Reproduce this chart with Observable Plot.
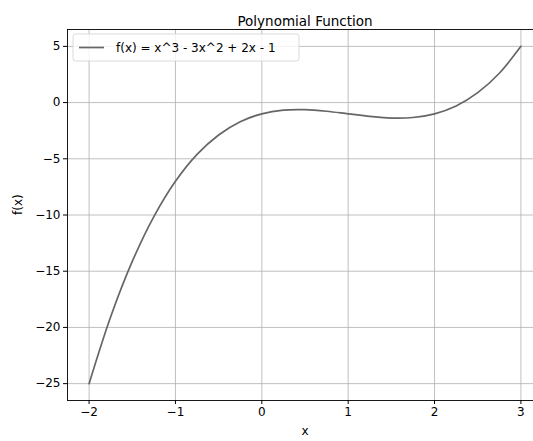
<!DOCTYPE html>
<html><head><meta charset="utf-8">
<script src="https://cdn.jsdelivr.net/npm/d3@7"></script>
<script src="https://cdn.jsdelivr.net/npm/@observablehq/plot@0.6"></script>
<style>html,body{margin:0;padding:0;overflow:hidden;background:#fff}#chart{width:533px;height:441px;overflow:hidden}</style>
</head><body><div id="chart"></div>
<script>
const xs = [-2, -1.75, -1.5, -1.25, -1, -0.75, -0.5, -0.25, 0, 0.25, 0.5, 0.75, 1, 1.25, 1.5, 1.75, 2, 2.25, 2.5, 2.75, 3];
const ys = [-25, -19.05, -14.13, -10.14, -7, -4.61, -2.88, -1.70, -1, -0.67, -0.63, -0.77, -1, -1.23, -1.38, -1.33, -1, -0.30, 0.88, 2.61, 5];
const xTicks = [-2, -1, 0, 1, 2, 3];
const yTicks = [-25, -20, -15, -10, -5, 0, 5];
const titleText = "Polynomial Function";
const xLabel = "x";
const yLabel = "f(x)";
const seriesName = "f(x) = x^3 - 3x^2 + 2x - 1";
const lineColor = "#666666";

const data = xs.map((x, i) => ({x, y: ys[i]}));

const chart = Plot.plot({
  width: 545, height: 441,
  marginLeft: 67, marginRight: 3, marginTop: 29, marginBottom: 41,
  style: {fontFamily: "DejaVu Sans", fontSize: "12px", color: "#000", background: "#fff", maxWidth: "none"},
  x: {domain: [-2.25, 3.25], label: null},
  y: {domain: [-26.5, 6.5], label: null},
  marks: [
    Plot.gridX(xTicks, {stroke: "#b0b0b0", strokeOpacity: 1, strokeWidth: 0.8}),
    Plot.gridY(yTicks, {stroke: "#b0b0b0", strokeOpacity: 1, strokeWidth: 0.8}),
    Plot.axisX(xTicks, {tickSize: 4, tickPadding: 3, fontSize: 12, label: null}),
    Plot.axisY(yTicks, {tickSize: 4, tickPadding: 3, fontSize: 12, label: null}),
    Plot.line(data, {x: "x", y: "y", stroke: lineColor, strokeWidth: 1.7, curve: "catmull-rom"}),
    Plot.frame({stroke: "#000", strokeWidth: 0.9}),
    Plot.text([titleText], {frameAnchor: "top", dy: -13, fontSize: 13.5, fill: "#000"}),
    Plot.text([xLabel], {frameAnchor: "bottom", dy: 34, fontSize: 12, fill: "#000"}),
    Plot.text([yLabel], {frameAnchor: "left", dx: -49, rotate: -90, fontSize: 12, fill: "#000"})
  ]
});
chart.style.maxWidth = "none";

const svg = d3.select(chart);
const lg = svg.append("g");
lg.append("rect").attr("x", 73).attr("y", 34).attr("width", 226).attr("height", 27)
  .attr("rx", 2.5).attr("fill", "#fff").attr("fill-opacity", 0.8)
  .attr("stroke", "#d6d6d6").attr("stroke-width", 0.9);
lg.append("line").attr("x1", 79).attr("x2", 104).attr("y1", 47.5).attr("y2", 47.5)
  .attr("stroke", lineColor).attr("stroke-width", 1.7);
lg.append("text").attr("x", 116).attr("y", 47.5).attr("dy", "0.35em")
  .attr("text-anchor", "start")
  .attr("font-family", "DejaVu Sans").attr("font-size", 12).attr("fill", "#000")
  .text(seriesName);

document.getElementById("chart").appendChild(chart);
</script>
</body></html>
